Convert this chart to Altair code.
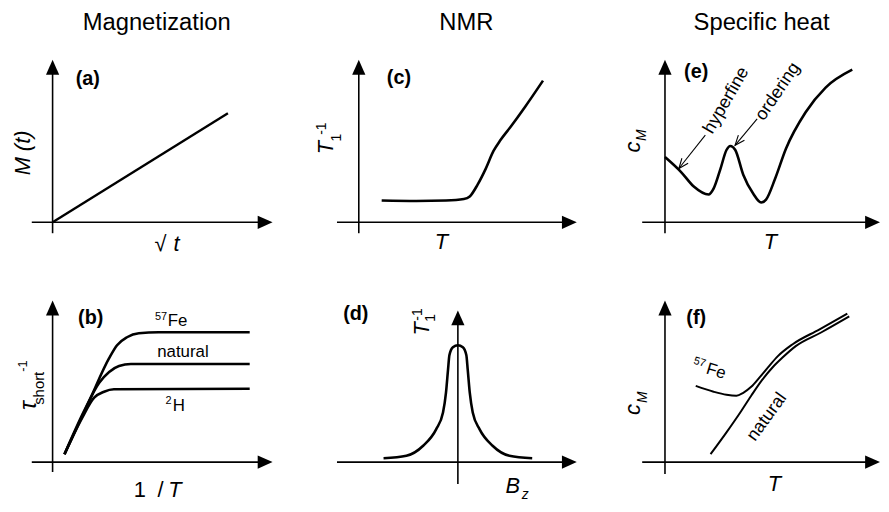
import math
import altair as alt
import pandas as pd

FONT = "Liberation Sans"
INK = "#000000"

# ---------------- data (panel units: origin = 0, axis arrow tips at 10) ----------------
A_X = [0.0, 7.97]
A_Y = [0.0, 6.71]

B_FE_X = [0.54, 1.67, 2.57, 2.93, 3.38, 3.92, 4.82, 8.96]
B_FE_Y = [0.49, 3.80, 6.44, 7.24, 7.73, 7.98, 8.04, 8.04]
B_NAT_X = [0.54, 1.44, 2.12, 2.57, 3.02, 3.56, 8.96]
B_NAT_Y = [0.49, 3.19, 4.91, 5.58, 5.95, 6.07, 6.07]
B_H_X = [0.54, 1.35, 1.89, 2.34, 2.79, 8.96]
B_H_Y = [0.49, 2.76, 3.99, 4.36, 4.51, 4.54]

C_X = [1.05, 2.64, 4.00, 4.82, 5.09, 5.45, 5.82, 6.18, 6.50, 6.95, 7.64, 8.45]
C_Y = [1.34, 1.31, 1.34, 1.43, 1.59, 2.32, 3.29, 4.39, 5.06, 5.85, 7.13, 8.72]

D_X = [-6.25, -4.33, -2.92, -1.83, -1.25, -1.0, -0.83, -0.71, -0.42, 0.0,
       0.42, 0.71, 0.83, 1.0, 1.25, 1.83, 2.92, 4.33, 6.25]
D_Y = [0.26, 0.42, 1.08, 2.16, 3.27, 4.58, 6.08, 7.06, 7.58, 7.71,
       7.58, 7.06, 6.08, 4.58, 3.27, 2.16, 1.08, 0.42, 0.26]

E_X = [0.0, 0.74, 1.34, 2.03, 2.26, 2.58, 2.86, 3.04, 3.27, 3.64, 4.10, 4.47,
       4.70, 5.12, 5.62, 6.54, 7.47, 8.71]
E_Y = [4.02, 3.11, 2.20, 1.71, 2.07, 3.29, 4.45, 4.70, 4.45, 2.93, 1.77, 1.22,
       1.40, 2.68, 4.51, 6.77, 8.29, 9.39]

F_FE_X = [1.43, 2.26, 2.86, 3.32, 3.64, 4.01, 4.42, 4.88, 5.25, 5.94, 7.19, 8.48]
F_FE_Y = [4.72, 4.36, 4.17, 4.11, 4.29, 4.66, 5.28, 6.01, 6.56, 7.30, 8.22, 9.20]
F_NAT_X = [2.12, 2.86, 3.50, 4.01, 4.52, 5.02, 5.44, 6.08, 7.28, 8.57]
F_NAT_Y = [0.49, 1.84, 3.07, 4.11, 5.09, 5.89, 6.44, 7.18, 8.04, 9.02]

# ---------------- layout (page pixels) ----------------
# frame: left, top, width, height
FRAMES = {
    "a": (8, 8, 292, 248), "c": (300, 8, 300, 248), "e": (600, 8, 289, 248),
    "b": (8, 256, 292, 248), "d": (300, 256, 300, 248), "f": (600, 256, 289, 248),
}
# origin x, origin y, x-arrow tip, y-arrow tip, x-axis start, y-axis bottom
GEOM = {
    "a": (53, 221, 275, 57, 32, 232),
    "b": (53, 463, 275, 300, 32, 473),
    "c": (362, 221, 582, 57, 340, 232),
    "d": (462, 463, 582, 310, 340, 485),
    "e": (671, 221, 888, 57, 648, 232),
    "f": (671, 463, 888, 300, 648, 475),
}
# text, x, y, size, style, weight, angle
TEXTS = {
    "a": [
        ("Magnetization", 158, 20, 24, "normal", "normal", 0),
        ("(a)", 88.5, 76.5, 20, "normal", "bold", 0),
        ("M (t)", 23, 151, 22, "italic", "normal", 270),
        ("\u221a", 162, 243, 22, "normal", "normal", 0),
        ("t", 178, 243, 22, "italic", "normal", 0),
    ],
    "b": [
        ("(b)", 91.5, 318, 20, "normal", "bold", 0),
        ("57", 162.5, 317, 11, "normal", "normal", 0),
        ("Fe", 179, 321, 17, "normal", "normal", 0),
        ("natural", 184.5, 351.5, 17, "normal", "normal", 0),
        ("2", 170, 401.5, 11, "normal", "normal", 0),
        ("H", 180.5, 406, 17, "normal", "normal", 0),
        ("\u03c4", 29, 406, 24, "italic", "normal", 270),
        ("short", 39, 388.5, 15, "normal", "normal", 270),
        ("-1", 23, 366, 13, "normal", "normal", 270),
        ("1", 141, 491, 22, "normal", "normal", 0),
        ("/", 162, 491, 22, "normal", "normal", 0),
        ("T", 176.5, 491, 22, "italic", "normal", 0),
    ],
    "c": [
        ("NMR", 470.5, 20, 24, "normal", "normal", 0),
        ("(c)", 402.5, 75, 20, "normal", "bold", 0),
        ("T", 329, 145.5, 22, "italic", "normal", 270),
        ("1", 340, 135.5, 14, "normal", "normal", 270),
        ("-1", 325, 126.5, 14, "normal", "normal", 270),
        ("T", 445.5, 240.5, 22, "italic", "normal", 0),
    ],
    "d": [
        ("(d)", 359, 313.5, 20, "normal", "bold", 0),
        ("T", 425.5, 328.5, 22, "italic", "normal", 270),
        ("1", 435, 317.5, 14, "normal", "normal", 270),
        ("-1", 422, 314, 14, "normal", "normal", 270),
        ("B", 517.5, 487, 22, "italic", "normal", 0),
        ("z", 530, 496.5, 14, "italic", "normal", 0),
    ],
    "e": [
        ("Specific heat", 768.5, 20, 24, "normal", "normal", 0),
        ("(e)", 702.5, 69.5, 20, "normal", "bold", 0),
        ("c", 639, 145, 22, "italic", "normal", 270),
        ("M", 648, 133, 14, "italic", "normal", 270),
        ("hyperfine", 733, 98, 18, "normal", "normal", 300),
        ("ordering", 785, 89, 18, "normal", "normal", 304),
        ("T", 777.5, 240.5, 22, "italic", "normal", 0),
    ],
    "f": [
        ("(f)", 702.5, 317.5, 20, "normal", "bold", 0),
        ("57", 706, 362.5, 11, "normal", "normal", 17),
        ("Fe", 722.5, 371.5, 17, "normal", "normal", 17),
        ("natural", 774, 417.5, 18, "normal", "normal", 306),
        ("c", 639, 410, 22, "italic", "normal", 270),
        ("M", 649, 397.5, 14, "italic", "normal", 270),
        ("T", 781.5, 485, 22, "italic", "normal", 0),
    ],
}
# annotation arrows: start -> tip (page px)
ANNOT = {"e": [((711.7, 133), (685, 166.7)), ((764, 116.7), (741.7, 143.3))]}

RIGHT_HEAD = "M-2,-0.887L0,0L-2,0.887Z"
UP_HEAD = "M-0.887,2L0,0L0.887,2Z"
V_HEAD = "M-2,-0.8L0,0L-2,0.8"


def panel(key, curves):
    L, T, W, H = FRAMES[key]
    ox, oy, tx, ty, xs, yb = GEOM[key]
    sx = (tx - ox) / 10.0
    sy = (oy - ty) / 10.0

    def ux(px):
        return (px - ox) / sx

    def uy(py):
        return (oy - py) / sy

    xsc = alt.Scale(domain=[ux(L), ux(L + W)], nice=False, zero=False)
    ysc = alt.Scale(domain=[uy(T + H), uy(T)], nice=False, zero=False)

    def X():
        return alt.X("x:Q", scale=xsc, axis=None)

    def Y():
        return alt.Y("y:Q", scale=ysc, axis=None)

    layers = []
    axes = pd.DataFrame({
        "x": [ux(xs), 0.0], "x2": [10 - 7 / sx, 0.0],
        "y": [0.0, uy(yb)], "y2": [0.0, 10 - 7 / sy],
    })
    layers.append(alt.Chart(axes).mark_rule(color=INK, strokeWidth=1.6).encode(
        x=X(), x2="x2:Q", y=Y(), y2="y2:Q"))
    for shape, px, py in [(RIGHT_HEAD, 10.0, 0.0), (UP_HEAD, 0.0, 10.0)]:
        layers.append(alt.Chart(pd.DataFrame({"x": [px], "y": [py]})).mark_point(
            shape=shape, size=225, filled=True, color=INK, opacity=1, strokeWidth=0
        ).encode(x=X(), y=Y()))

    for cx, cy, sw, interp in curves:
        layers.append(alt.Chart(pd.DataFrame({"x": cx, "y": cy})).mark_line(
            color=INK, strokeWidth=sw, interpolate=interp, strokeJoin="round"
        ).encode(x=X(), y=Y()))

    for (x1, y1), (x2, y2) in ANNOT.get(key, []):
        d = pd.DataFrame({"x": [ux(x1)], "y": [uy(y1)], "x2": [ux(x2)], "y2": [uy(y2)]})
        layers.append(alt.Chart(d).mark_rule(color=INK, strokeWidth=1.1).encode(
            x=X(), y=Y(), x2="x2:Q", y2="y2:Q"))
        ang = math.degrees(math.atan2(y2 - y1, x2 - x1)) % 360
        layers.append(alt.Chart(pd.DataFrame({"x": [ux(x2)], "y": [uy(y2)]})).mark_point(
            shape=V_HEAD, size=100, filled=False, color=INK, opacity=1,
            strokeWidth=1.1, angle=ang).encode(x=X(), y=Y()))

    for text, px, py, size, style, weight, angle in TEXTS[key]:
        d = pd.DataFrame({"x": [ux(px)], "y": [uy(py)], "t": [text]})
        layers.append(alt.Chart(d).mark_text(
            font=FONT, fontSize=size, fontStyle=style, fontWeight=weight,
            angle=angle, align="center", baseline="middle", color=INK
        ).encode(x=X(), y=Y(), text="t:N"))

    return alt.layer(*layers).properties(width=W, height=H)


pa = panel("a", [(A_X, A_Y, 2.4, "linear")])
pb = panel("b", [(B_FE_X, B_FE_Y, 2.6, "monotone"),
                 (B_NAT_X, B_NAT_Y, 2.6, "monotone"),
                 (B_H_X, B_H_Y, 2.6, "monotone")])
pc = panel("c", [(C_X, C_Y, 2.6, "monotone")])
pd_ = panel("d", [(D_X, D_Y, 2.6, "monotone")])
pe = panel("e", [(E_X, E_Y, 2.6, "monotone")])
pf = panel("f", [(F_FE_X, F_FE_Y, 2.0, "monotone"),
                 (F_NAT_X, F_NAT_Y, 2.0, "monotone")])

chart = alt.concat(pa, pc, pe, pb, pd_, pf, columns=3, spacing=0, bounds="flush").properties(
    padding=0, background="white"
).configure_view(stroke=None)

chart.save("out.html", embed_options={"renderer": "svg", "actions": False})
